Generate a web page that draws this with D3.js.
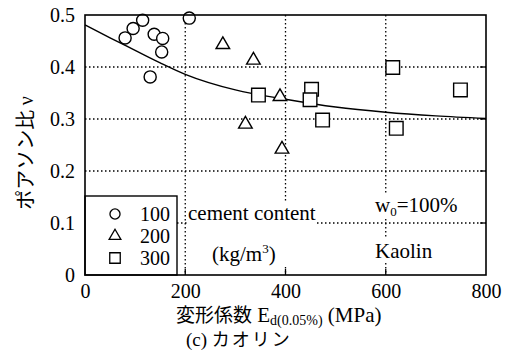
<!DOCTYPE html>
<html>
<head>
<meta charset="utf-8">
<script src="https://cdn.jsdelivr.net/npm/d3@7"></script>
<style>
  body { margin: 0; background: #fff; }
  svg { display: block; }
</style>
</head>
<body>
<svg id="svg" width="511" height="354"></svg>
<script>
// cement content 100 kg/m3
var c100E = [80, 96, 115, 138, 155, 153, 130, 208];
var c100Nu = [0.456, 0.474, 0.49, 0.463, 0.455, 0.429, 0.381, 0.494];
// cement content 200 kg/m3
var c200E = [275, 336, 320, 389, 393];
var c200Nu = [0.443, 0.413, 0.29, 0.343, 0.242];
// cement content 300 kg/m3
var c300E = [346, 452, 449, 474, 614, 621, 749];
var c300Nu = [0.346, 0.357, 0.337, 0.298, 0.399, 0.282, 0.356];
// fitted curve
var fitE = [0, 50, 100, 150, 200, 300, 400, 500, 600, 700, 800];
var fitNu = [0.481, 0.456, 0.432, 0.408, 0.386, 0.356, 0.338, 0.323, 0.313, 0.306, 0.301];

var xTicks = [0, 200, 400, 600, 800];
var yTicks = [0, 0.1, 0.2, 0.3, 0.4, 0.5];
var legendLabels = ["100", "200", "300"];

var serif = "Liberation Serif";
var cjk = "Noto Sans CJK JP";

var svg = d3.select("#svg");
var padding = { top: 15, right: 25, bottom: 79, left: 85 };
var chartArea = {
  width: 511 - padding.left - padding.right,
  height: 354 - padding.top - padding.bottom,
};

var xScale = d3.scaleLinear().domain([0, 800]).range([0, chartArea.width]);
var yScale = d3.scaleLinear().domain([0, 0.5]).range([chartArea.height, 0]);

var g = svg.append("g")
  .attr("transform", "translate(" + padding.left + "," + padding.top + ")");

// dotted grid
g.append("g").selectAll("line")
  .data(xTicks.slice(1, -1))
  .enter().append("line")
  .attr("x1", function (d) { return xScale(d); })
  .attr("x2", function (d) { return xScale(d); })
  .attr("y1", 0).attr("y2", chartArea.height)
  .attr("stroke", "#000").attr("stroke-width", 1.3)
  .attr("stroke-dasharray", "1.5,2.5");
g.append("g").selectAll("line")
  .data(yTicks.slice(1, -1))
  .enter().append("line")
  .attr("y1", function (d) { return yScale(d); })
  .attr("y2", function (d) { return yScale(d); })
  .attr("x1", 0).attr("x2", chartArea.width)
  .attr("stroke", "#000").attr("stroke-width", 1.3)
  .attr("stroke-dasharray", "1.5,2.5");

// axes
var xAxis = g.append("g")
  .attr("transform", "translate(0," + chartArea.height + ")")
  .call(d3.axisBottom(xScale).tickValues(xTicks).tickSize(0).tickPadding(9)
    .tickFormat(d3.format("d")));
var yAxis = g.append("g")
  .call(d3.axisLeft(yScale).tickValues(yTicks).tickSize(0).tickPadding(10)
    .tickFormat(function (d) { return d === 0 ? "0" : d3.format(".1f")(d); }));
[xAxis, yAxis].forEach(function (a) {
  a.select(".domain").remove();
  a.attr("font-family", null).attr("font-size", null);
  a.selectAll("text").style("font-family", serif).style("font-size", "20px").attr("fill", "#000");
});

// short inward ticks on the right and bottom
g.append("g").selectAll("line")
  .data(yTicks.slice(1, -1))
  .enter().append("line")
  .attr("x1", chartArea.width - 6).attr("x2", chartArea.width)
  .attr("y1", function (d) { return yScale(d); })
  .attr("y2", function (d) { return yScale(d); })
  .attr("stroke", "#000").attr("stroke-width", 1.3);
g.append("g").selectAll("line")
  .data(xTicks.slice(1, -1))
  .enter().append("line")
  .attr("x1", function (d) { return xScale(d); })
  .attr("x2", function (d) { return xScale(d); })
  .attr("y1", chartArea.height - 6).attr("y2", chartArea.height)
  .attr("stroke", "#000").attr("stroke-width", 1.3);

// text labels inside the plot, a white backing hides the grid
function addText(parent, x, y, build) {
  var t = parent.append("text").attr("x", x).attr("y", y)
    .style("font-family", serif).style("font-size", "21px").attr("fill", "#000");
  build(t);
  return t;
}
function backing(parent, nodes) {
  var boxes = nodes.map(function (n) { return n.node().getBBox(); });
  var x0 = d3.min(boxes, function (b) { return b.x; });
  var y0 = d3.min(boxes, function (b) { return b.y; });
  var x1 = d3.max(boxes, function (b) { return b.x + b.width; });
  var y1 = d3.max(boxes, function (b) { return b.y + b.height; });
  parent.insert("rect", ":first-child")
    .attr("x", x0 - 1).attr("y", y0).attr("width", x1 - x0 + 2).attr("height", y1 - y0)
    .attr("fill", "#fff");
}
var noteA = g.append("g");
var tA1 = addText(noteA, 103, 205, function (t) { t.text("cement content"); });
var tA2 = addText(noteA, 127, 246, function (t) {
  t.append("tspan").text("(kg/m");
  t.append("tspan").style("font-size", "13px").attr("dy", -8).text("3");
  t.append("tspan").attr("dy", 8).text(")");
});
backing(noteA, [tA1, tA2]);

var noteB = g.append("g");
var tB1 = addText(noteB, 290, 197, function (t) {
  t.append("tspan").text("w");
  t.append("tspan").style("font-size", "13px").attr("dy", 4).text("0");
  t.append("tspan").attr("dy", -4).text("=100%");
});
backing(noteB, [tB1]);
var noteC = g.append("g");
var tC1 = addText(noteC, 290, 243, function (t) { t.text("Kaolin"); });
backing(noteC, [tC1]);

// fitted curve
var line = d3.line()
  .x(function (d) { return xScale(d[0]); })
  .y(function (d) { return yScale(d[1]); })
  .curve(d3.curveMonotoneX);
g.append("path")
  .datum(d3.zip(fitE, fitNu))
  .attr("d", line)
  .attr("fill", "none").attr("stroke", "#000").attr("stroke-width", 1.4);

// markers
var symCircle = d3.symbol().type(d3.symbolCircle).size(115);
var symTri = d3.symbol().type(d3.symbolTriangle).size(80);
var symSquare = d3.symbol().type(d3.symbolSquare).size(185);
var series = [
  { e: c100E, nu: c100Nu, sym: symCircle },
  { e: c200E, nu: c200Nu, sym: symTri },
  { e: c300E, nu: c300Nu, sym: symSquare },
];
series.forEach(function (s) {
  g.append("g").selectAll("path")
    .data(d3.zip(s.e, s.nu))
    .enter().append("path")
    .attr("d", s.sym)
    .attr("transform", function (d) {
      return "translate(" + xScale(d[0]) + "," + yScale(d[1]) + ")";
    })
    .attr("fill", "#fff").attr("stroke", "#000").attr("stroke-width", 1.4);
});

// legend box
var legTop = 196 - padding.top;
var leg = g.append("g");
leg.append("rect")
  .attr("x", 0).attr("y", legTop)
  .attr("width", 92).attr("height", chartArea.height - legTop)
  .attr("fill", "#fff").attr("stroke", "#000").attr("stroke-width", 1.4);
var legSyms = [
  d3.symbol().type(d3.symbolCircle).size(80),
  d3.symbol().type(d3.symbolTriangle).size(60),
  d3.symbol().type(d3.symbolSquare).size(110),
];
legendLabels.forEach(function (lab, i) {
  var yy = 214 + i * 22 - padding.top;
  leg.append("path").attr("d", legSyms[i])
    .attr("transform", "translate(30," + yy + ")")
    .attr("fill", "#fff").attr("stroke", "#000").attr("stroke-width", 1.3);
  leg.append("text").attr("x", 55).attr("y", yy + 7)
    .style("font-family", serif).style("font-size", "20px").text(lab);
});

// frame
g.append("rect")
  .attr("width", chartArea.width).attr("height", chartArea.height)
  .attr("fill", "none").attr("stroke", "#000").attr("stroke-width", 1.6);

// axis titles
var xt = svg.append("text")
  .attr("x", 176).attr("y", 322)
  .style("font-family", serif).style("font-size", "21px").attr("fill", "#000");
xt.append("tspan").style("font-family", cjk).style("font-size", "19px").text("変形係数");
xt.append("tspan").text(" E");
xt.append("tspan").style("font-size", "14px").attr("dy", 3).text("d(0.05%)");
xt.append("tspan").attr("dy", -3).text(" (MPa)");

var cap = svg.append("text")
  .attr("x", 186).attr("y", 346)
  .style("font-family", serif).style("font-size", "19px").attr("fill", "#000");
cap.append("tspan").text("(c) ");
cap.append("tspan").style("font-family", cjk).style("font-size", "18px")
  .attr("letter-spacing", "2px").text("カオリン");

var yt = svg.append("text")
  .attr("transform", "translate(33,153) rotate(-90)")
  .attr("text-anchor", "middle")
  .style("font-size", "20px").attr("fill", "#000");
yt.append("tspan").style("font-family", cjk).text("ポアソン比 ");
yt.append("tspan").style("font-family", serif).text("ν");
</script>
</body>
</html>
